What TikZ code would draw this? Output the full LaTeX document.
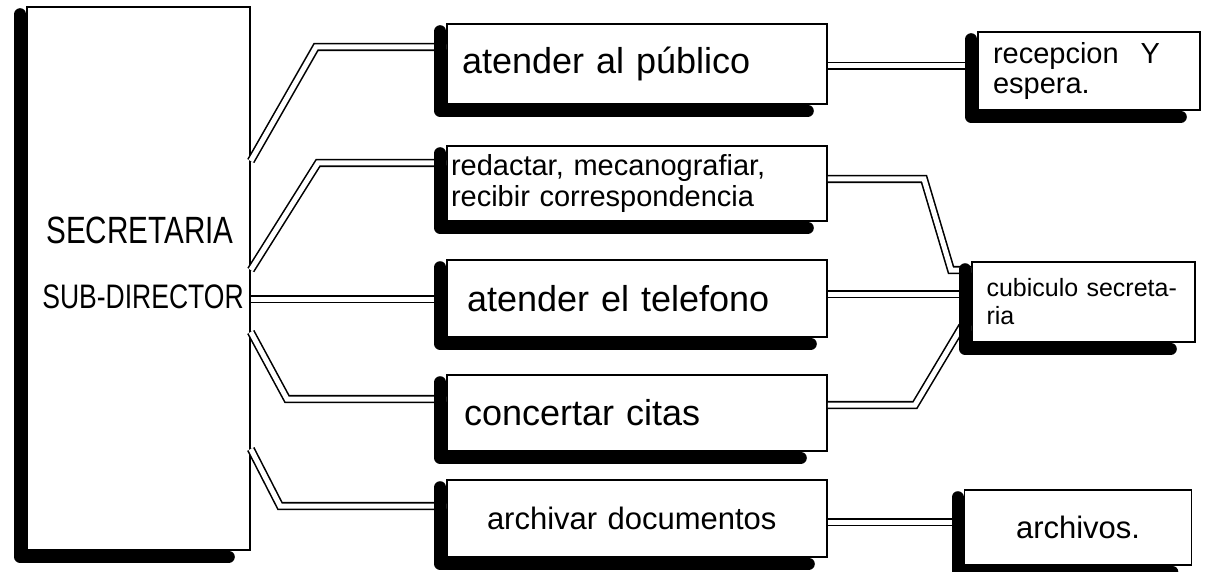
\documentclass[tikz,border=0pt]{standalone}
\usepackage{fontspec}
\setmainfont{Liberation Sans}
\newfontfamily\handfont[FakeStretch=0.78]{Liberation Sans}
\begin{document}
\begin{tikzpicture}[x=1pt,y=-1pt,
  box/.style={draw=black, line width=1.6pt, fill=white, inner sep=0pt, align=left},
  shadowbar/.style={draw=black, line width=12pt, line cap=round, line join=round},
  conn/.style={draw=black, line width=1.6pt, double=white, double distance=5pt, line join=miter},
  lbl/.style={inner sep=0pt, align=center}]
\fill[white] (0,0) rectangle (1206,572);
\useasboundingbox (0,0) rectangle (1206,572);

% boxes
\node[box, minimum width=223pt, minimum height=543pt] (L) at (138.5,278.5) {};
\node[lbl, font=\handfont\fontsize{38}{40}\selectfont] (Lt1) at (140,230) {SECRETARIA};
\node[lbl, font=\handfont\fontsize{34}{36}\selectfont] (Lt2) at (143,297) {SUB-DIRECTOR};

\node[box, minimum width=380pt, minimum height=80pt, text width=350pt, font=\fontsize{36}{38}\selectfont] (b1) at (637,64) {atender al público};
\node[box, minimum width=380pt, minimum height=75pt, text width=372pt, font=\fontsize{29}{31}\selectfont] (b2) at (637,183.5) {redactar, mecanografiar,\\recibir correspondencia};
\node[box, minimum width=380pt, minimum height=77pt, text width=340pt, font=\fontsize{36}{38}\selectfont] (b3) at (637,298.5) {atender el telefono};
\node[box, minimum width=380pt, minimum height=76pt, text width=346pt, font=\fontsize{36}{38}\selectfont] (b4) at (637,413) {concertar citas};
\node[box, minimum width=380pt, minimum height=77pt, text width=300pt, font=\fontsize{31}{33}\selectfont] (b5) at (637,518.5) {archivar documentos};

\node[box, minimum width=222pt, minimum height=78pt, text width=192pt, font=\fontsize{29}{30}\selectfont] (R1) at (1089,71) {recepcion\hspace{22pt}Y\\espera.};
\node[box, minimum width=223pt, minimum height=80pt, text width=194pt, font=\fontsize{25}{28}\selectfont] (R2) at (1083.5,302) {cubiculo secreta-\\ria};
\node[box, minimum width=227pt, minimum height=75pt, text width=124pt, font=\fontsize{31}{33}\selectfont] (R3) at (1078,527.5) {archivos.};

% connectors
\draw[conn] (L.east |- 0,161) -- (316,47) -- (b1.west |- 0,47);
\draw[conn] (L.east |- 0,270) -- (318,163) -- (b2.west |- 0,163);
\draw[conn] (L.east |- 0,299) -- (b3.west |- 0,299);
\draw[conn] (L.east |- 0,332) -- (287,399) -- (b4.west |- 0,399);
\draw[conn] (L.east |- 0,449) -- (280,506) -- (b5.west |- 0,506);

\draw[conn] (b1.east |- 0,66) -- (R1.west |- 0,66);
\draw[conn] (b2.east |- 0,179) -- (924,179) -- (951,270) -- (R2.west |- 0,270);
\draw[conn] (b3.east |- 0,294) -- (R2.west |- 0,294);
\draw[conn] (b4.east |- 0,405) -- (915,405) -- (961,328) -- (R2.west |- 0,328);
\draw[conn] (b5.east |- 0,522) -- (R3.west |- 0,522);

% thick shadows (left and bottom)
\foreach \n/\e in {L/22, b1/20, b2/20, b3/17, b4/27, b5/19, R1/20, R2/25, R3/20}
  \draw[shadowbar] ([xshift=-6pt,yshift=-8pt]\n.north west) -- ([xshift=-6pt,yshift=-6pt]\n.south west) -- ([xshift=-\e pt,yshift=-6pt]\n.south east);
\end{tikzpicture}
\end{document}
